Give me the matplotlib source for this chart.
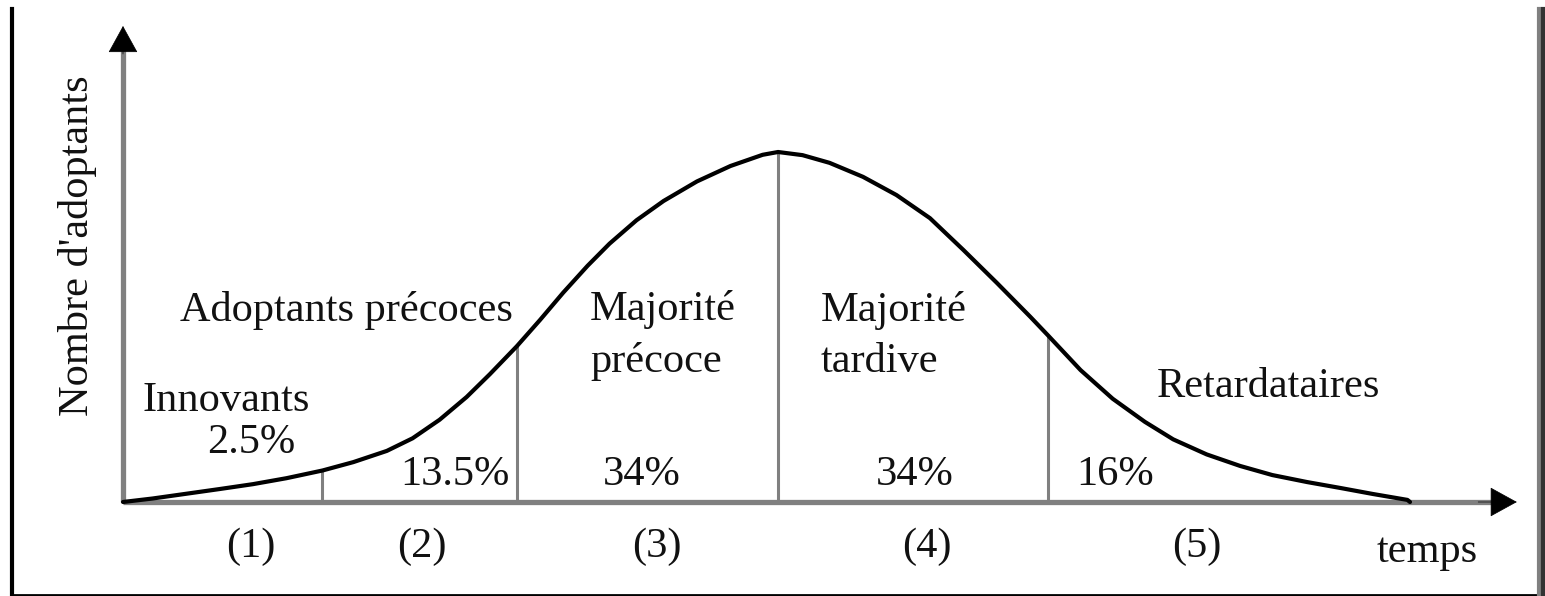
import numpy as np
import matplotlib
matplotlib.use("Agg")
import matplotlib.pyplot as plt
from matplotlib.lines import Line2D

# Courbe de diffusion : temps -> nombre d'adoptants (pic = 100)
temps = [0.0, 0.23, 0.50, 0.75, 1.01, 1.27, 1.55, 1.79, 2.05, 2.25, 2.46, 2.67,
         2.85, 3.06, 3.24, 3.42, 3.61, 3.78, 3.99, 4.20, 4.46, 4.72, 4.97, 5.09,
         5.28, 5.49, 5.75, 6.01, 6.27, 6.53, 6.79, 7.05, 7.19, 7.44, 7.69, 7.94,
         8.16, 8.42, 8.68, 8.93, 9.20, 9.46, 9.71, 9.98, 10.0]
adoptants = [0.0, 1.0, 2.4, 3.7, 5.1, 6.8, 9.0, 11.4, 14.6, 18.2, 23.5, 30.0,
             36.5, 44.5, 52.0, 59.8, 67.5, 73.8, 80.5, 86.0, 91.6, 96.0, 99.2, 100.0,
             99.1, 96.9, 92.9, 87.7, 81.1, 72.0, 62.6, 52.9, 47.5, 37.7, 29.5, 22.9,
             17.9, 13.6, 10.3, 7.7, 5.7, 4.0, 2.3, 0.6, 0.0]

# separations entre categories
bornes = [1.55, 3.06, 5.09, 7.19]
bornes_h = [9.0, 44.5, 100.0, 47.5]

categories = ["Innovants", "Adoptants précoces", "Majorité\nprécoce",
              "Majorité\ntardive", "Retardataires"]
cat_pos = [(0.15, 26.0), (0.44, 51.7), (3.63, 37.1), (5.42, 37.1), (8.03, 30.0)]

pourcents = ["2.5%", "13.5%", "34%", "34%", "16%"]
pct_pos = [(1.00, 14.0), (2.58, 4.9), (4.03, 4.9), (6.15, 4.9), (7.71, 4.9)]

numeros = ["(1)", "(2)", "(3)", "(4)", "(5)"]
num_x = [0.99, 2.32, 4.15, 6.25, 8.34]

W, H = 1545, 596
# pixel de l'origine et echelle (px par unite)
ox, oy = 123, 502
sx, sy = 128.7, 3.5

fig = plt.figure(figsize=(W / 100, H / 100), dpi=100)
ax = fig.add_axes([0, 0, 1, 1])
ax.set_xlim(-ox / sx, (W - ox) / sx)
ax.set_ylim(-(H - oy) / sy, oy / sy)
ax.axis("off")

plt.rcParams['font.family'] = ['Liberation Serif', 'DejaVu Serif']
fs = 30.5
tc = '#111111'
gris = '#808080'

# axes
x_fin, y_fin = 10.83, 136
ax.plot([0, x_fin - 0.15], [0, 0], color=gris, lw=3.8, solid_capstyle='butt', zorder=2)
ax.plot([0, 0], [0, y_fin - 6], color=gris, lw=3.8, solid_capstyle='butt', zorder=2)
arrow = dict(arrowstyle="-|>,head_length=1.0,head_width=0.55", color='black',
             mutation_scale=18, lw=0.5, shrinkA=0, shrinkB=0)
ax.annotate('', xy=(x_fin, 0), xytext=(x_fin - 0.3, 0), arrowprops=arrow)
ax.annotate('', xy=(0, y_fin), xytext=(0, y_fin - 8), arrowprops=arrow)

# separations
for b, h in zip(bornes, bornes_h):
    ax.plot([b, b], [0, h], color=gris, lw=2.2, zorder=2)

# courbe
ax.plot(temps, adoptants, color='black', lw=3.0, solid_joinstyle='round',
        solid_capstyle='round', zorder=3)

for txt, (x, y) in zip(categories, cat_pos):
    ax.text(x, y, txt, fontsize=fs, color=tc, ha='left', va='baseline', linespacing=1.44)
for txt, (x, y) in zip(pourcents, pct_pos):
    ax.text(x, y, txt, fontsize=fs, color=tc, ha='center', va='baseline')
for txt, x in zip(numeros, num_x):
    ax.text(x, -15.7, txt, fontsize=fs, color=tc, ha='center', va='baseline')

ax.text(9.74, -17.1, "temps", fontsize=fs, color=tc, ha='left', va='baseline')
ax.text(-0.35, 73.1, "Nombre d'adoptants", fontsize=fs, color=tc, rotation=90,
        ha='center', va='center')

# cadre
fig.add_artist(Line2D([12 / W, 12 / W], [0, 1 - 9 / H], color='black', lw=3,
                      transform=fig.transFigure))
fig.add_artist(Line2D([12 / W, 1], [1.5 / H, 1.5 / H], color='black', lw=2,
                      transform=fig.transFigure))
fig.add_artist(Line2D([1539 / W, 1539 / W], [0, 1 - 9 / H], color=gris, lw=3,
                      transform=fig.transFigure))
fig.add_artist(Line2D([1543 / W, 1543 / W], [0, 1 - 9 / H], color='#333333', lw=3,
                      transform=fig.transFigure))

fig.savefig("out.png", dpi=100)
